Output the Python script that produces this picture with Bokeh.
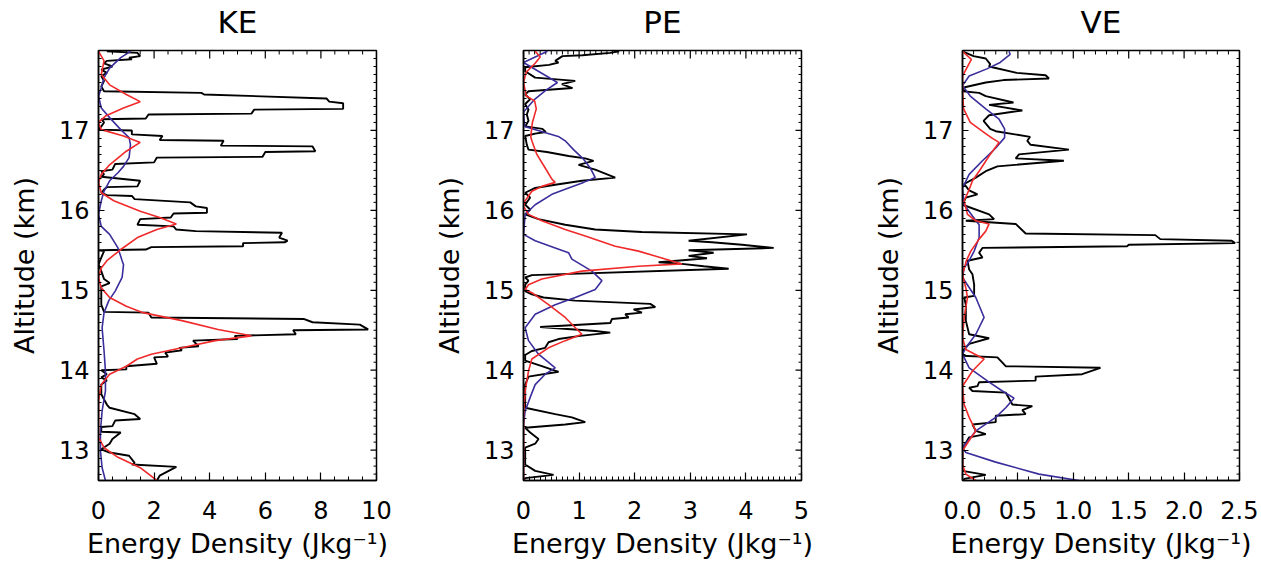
import numpy as np
from bokeh.plotting import figure
from bokeh.layouts import row
from bokeh.models import Range1d, FixedTicker, LinearAxis
from bokeh.embed import file_html
from bokeh.resources import INLINE

FONT = "DejaVu Sans"
BLACK = "#000000"
RED = "#f02a2a"
BLUE = "#3a2e9c"

# ---------------- data (altitude km, energy density J/kg) ----------------
alt_range = (12.62, 18.0)
alt_ticks = [13, 14, 15, 16, 17]
ke_ticks = [0, 2, 4, 6, 8, 10]
pe_ticks = [0, 1, 2, 3, 4, 5]
ve_ticks = [0.0, 0.5, 1.0, 1.5, 2.0, 2.5]
ve_tick_labels = ["0.0", "0.5", "1.0", "1.5", "2.0", "2.5"]
titles = ["KE", "PE", "VE"]

ke_black = [
    (17.99, 0.3), (17.97, 1.4), (17.93, 1.5), (17.91, 1.1), (17.89, 1.2), (17.87, 0.3),
    (17.84, 0.2), (17.80, 0.5), (17.76, 0.1), (17.72, 0.3), (17.68, 0.1), (17.62, 0.2),
    (17.55, 0.1), (17.49, 0.2), (17.47, 3.7), (17.45, 3.8), (17.40, 8.2), (17.36, 8.3),
    (17.34, 8.8), (17.27, 8.8), (17.26, 5.6), (17.21, 5.5), (17.20, 1.8), (17.15, 1.7),
    (17.14, 0.1), (17.10, 0.2), (17.05, 0.1), (17.01, 0.0), (17.00, 1.2), (16.95, 1.2),
    (16.93, 2.3), (16.88, 2.2), (16.87, 4.5), (16.81, 4.4), (16.80, 7.7), (16.74, 7.8),
    (16.73, 6.0), (16.67, 5.9), (16.66, 2.1), (16.60, 2.0), (16.58, 0.6), (16.51, 0.5),
    (16.49, 0.1), (16.45, 0.2), (16.42, 0.1), (16.37, 1.5), (16.30, 1.4), (16.29, 0.3),
    (16.26, 0.2), (16.22, 0.1), (16.19, 0.3), (16.18, 1.2), (16.14, 1.3), (16.10, 3.3),
    (16.05, 3.5), (16.03, 3.9), (15.97, 3.9), (15.96, 2.7), (15.91, 2.6), (15.89, 1.5),
    (15.82, 1.4), (15.80, 2.7), (15.76, 2.8), (15.74, 3.5), (15.72, 6.6), (15.66, 6.5),
    (15.62, 6.8), (15.60, 6.7), (15.59, 5.2), (15.55, 5.2), (15.54, 1.9), (15.51, 1.7),
    (15.50, 0.0), (15.49, 0.2), (15.41, 0.1), (15.32, 0.0), (15.24, 0.1), (15.14, 0.2),
    (15.09, 0.4), (15.05, 0.1), (14.95, 0.1), (14.82, 0.1), (14.73, 0.2), (14.72, 1.8),
    (14.66, 1.9), (14.64, 7.4), (14.60, 7.7), (14.57, 9.4), (14.51, 9.7), (14.50, 7.0),
    (14.45, 7.1), (14.43, 4.9), (14.39, 5.0), (14.37, 3.4), (14.30, 3.6), (14.28, 2.9),
    (14.25, 3.0), (14.22, 2.4), (14.17, 2.5), (14.16, 2.0), (14.08, 2.1), (14.05, 1.0),
    (14.01, 1.0), (14.00, 0.1), (13.95, 0.3), (13.91, 0.1), (13.87, 0.3), (13.82, 0.1),
    (13.70, 0.1), (13.57, 0.3), (13.53, 0.4), (13.45, 1.3), (13.39, 1.5), (13.37, 0.6),
    (13.30, 0.5), (13.29, 0.1), (13.23, 0.1), (13.22, 0.8), (13.14, 0.5), (13.08, 0.4),
    (13.01, 0.1), (12.97, 0.4), (12.93, 1.1), (12.84, 1.3), (12.82, 1.2), (12.79, 2.8),
    (12.68, 2.2), (12.62, 2.1),
]
ke_red = [
    (17.99, 0.0), (17.87, 0.2), (17.70, 0.1), (17.57, 0.4), (17.45, 1.0), (17.36, 1.5),
    (17.28, 0.9), (17.18, 0.25), (17.10, 0.0), (17.01, 0.1), (16.93, 0.9), (16.85, 1.5),
    (16.74, 1.0), (16.57, 0.4), (16.45, 0.1), (16.35, 0.0), (16.22, 0.1), (16.12, 0.55),
    (15.99, 1.5), (15.91, 2.2), (15.83, 2.8), (15.76, 2.1), (15.66, 1.4), (15.51, 0.8),
    (15.37, 0.3), (15.28, 0.1), (15.16, 0.0), (15.03, 0.1), (14.91, 0.4), (14.80, 1.0),
    (14.72, 1.6), (14.62, 3.0), (14.51, 4.3), (14.43, 5.5), (14.37, 4.2), (14.28, 3.0),
    (14.20, 1.9), (14.14, 1.4), (14.05, 1.0), (13.95, 0.4), (13.82, 0.1), (13.62, 0.0),
    (13.16, 0.0), (13.03, 0.2), (12.91, 0.7), (12.78, 1.5), (12.62, 2.1),
]
ke_blue = [
    (17.99, 1.15), (17.91, 0.8), (17.78, 0.4), (17.66, 0.2), (17.53, 0.1), (17.43, 0.0),
    (17.28, 0.1), (17.16, 0.4), (17.01, 0.8), (16.91, 1.1), (16.82, 1.15), (16.66, 1.1),
    (16.55, 0.9), (16.47, 0.7), (16.37, 0.4), (16.24, 0.2), (16.12, 0.1), (15.95, 0.0),
    (15.80, 0.1), (15.70, 0.4), (15.53, 0.7), (15.37, 0.85), (15.32, 0.9), (15.16, 0.85),
    (14.99, 0.6), (14.87, 0.37), (14.72, 0.2), (14.53, 0.13), (14.24, 0.2), (13.99, 0.25),
    (13.74, 0.25), (13.49, 0.13), (13.24, 0.07), (12.99, 0.07), (12.78, 0.13), (12.62, 0.25),
]

pe_black = [
    (17.99, 1.72), (17.97, 1.56), (17.94, 1.06), (17.93, 0.70), (17.87, 0.57), (17.85, 0.63),
    (17.82, 0.46), (17.79, 0.03), (17.74, 0.03), (17.66, 0.21), (17.62, 0.93), (17.58, 0.69),
    (17.53, 0.88), (17.49, 0.09), (17.45, 0.03), (17.39, 0.12), (17.33, 0.03), (17.26, 0.09),
    (17.20, 0.06), (17.12, 0.09), (17.05, 0.03), (17.02, 0.34), (16.98, 0.40), (16.96, 0.21),
    (16.93, 0.03), (16.82, 0.06), (16.76, 0.09), (16.73, 0.42), (16.68, 0.81), (16.65, 1.11),
    (16.62, 1.26), (16.57, 0.99), (16.51, 1.29), (16.41, 1.65), (16.37, 1.05), (16.32, 0.57),
    (16.28, 0.21), (16.22, 0.03), (16.16, 0.12), (16.07, 0.03), (16.01, 0.12), (15.95, 0.03),
    (15.89, 0.27), (15.82, 0.75), (15.76, 1.29), (15.73, 2.13), (15.70, 4.02), (15.62, 2.97),
    (15.60, 3.39), (15.57, 3.93), (15.53, 4.50), (15.50, 2.97), (15.47, 3.42), (15.43, 2.97),
    (15.40, 3.30), (15.35, 2.43), (15.33, 2.85), (15.30, 3.24), (15.27, 3.69), (15.19, 0.15),
    (15.16, 0.03), (15.12, 0.09), (15.07, 0.03), (14.99, 0.03), (14.95, 0.15), (14.91, 0.36),
    (14.87, 0.93), (14.83, 2.28), (14.79, 2.37), (14.76, 1.98), (14.72, 2.13), (14.70, 1.83),
    (14.66, 1.89), (14.64, 1.59), (14.59, 1.56), (14.54, 0.30), (14.49, 1.29), (14.47, 1.56),
    (14.43, 1.02), (14.39, 0.63), (14.35, 0.45), (14.28, 0.39), (14.24, 0.15), (14.19, 0.03),
    (14.12, 0.03), (14.05, 0.33), (13.98, 0.63), (13.92, 0.09), (13.82, 0.03), (13.53, 0.03),
    (13.45, 0.57), (13.41, 0.87), (13.35, 1.11), (13.32, 0.75), (13.28, 0.03), (13.22, 0.12),
    (13.14, 0.27), (13.08, 0.21), (13.03, 0.03), (12.82, 0.03), (12.74, 0.21), (12.69, 0.54),
    (12.65, 0.03), (12.62, 0.0),
]
pe_red = [
    (17.99, 0.21), (17.92, 0.30), (17.84, 0.21), (17.73, 0.05), (17.60, 0.0), (17.43, 0.05),
    (17.37, 0.20), (17.27, 0.23), (17.10, 0.16), (16.92, 0.13), (16.87, 0.15), (16.70, 0.24),
    (16.53, 0.39), (16.39, 0.51), (16.35, 0.57), (16.30, 0.33), (16.24, 0.15), (16.12, 0.03),
    (16.05, 0.0), (15.95, 0.09), (15.87, 0.33), (15.76, 0.75), (15.68, 1.11), (15.55, 1.65),
    (15.49, 2.07), (15.39, 2.55), (15.33, 2.85), (15.30, 2.07), (15.24, 1.05), (15.14, 0.33),
    (15.07, 0.09), (15.01, 0.03), (14.97, 0.15), (14.82, 0.45), (14.66, 0.75), (14.45, 1.05),
    (14.37, 0.75), (14.28, 0.45), (14.14, 0.15), (13.99, 0.09), (13.74, 0.03), (13.41, 0.0),
    (12.62, 0.0),
]
pe_blue = [
    (17.99, 0.43), (17.85, 0.0), (17.60, 0.61), (17.50, 0.40), (17.39, 0.20), (17.23, 0.0),
    (17.05, 0.02), (16.92, 0.64), (16.87, 0.75), (16.76, 0.90),
    (16.64, 1.08), (16.53, 1.20), (16.41, 1.29), (16.35, 1.08), (16.28, 0.81), (16.20, 0.51),
    (16.07, 0.21), (15.95, 0.03), (15.70, 0.0), (15.62, 0.21), (15.53, 0.57), (15.47, 0.81),
    (15.39, 0.87), (15.24, 1.23), (15.12, 1.41), (15.01, 1.29), (14.91, 0.93), (14.82, 0.57),
    (14.70, 0.21), (14.53, 0.03), (14.37, 0.09), (14.20, 0.27), (14.03, 0.57), (13.95, 0.39),
    (13.82, 0.21), (13.66, 0.12), (13.49, 0.03), (13.32, 0.0), (12.62, 0.0),
]

ve_black = [
    (17.99, 0.0), (17.93, 0.10), (17.90, 0.21), (17.83, 0.25), (17.80, 0.24), (17.72, 0.49),
    (17.69, 0.75), (17.65, 0.78), (17.63, 0.37), (17.60, 0.21), (17.54, 0.02), (17.49, 0.0),
    (17.47, 0.15), (17.43, 0.21), (17.35, 0.46), (17.32, 0.24), (17.25, 0.54), (17.19, 0.24),
    (17.12, 0.19), (17.02, 0.25), (16.99, 0.30), (16.92, 0.61), (16.87, 0.585),
    (16.82, 0.615), (16.76, 0.96), (16.70, 0.51), (16.65, 0.48), (16.62, 0.915), (16.55, 0.315),
    (16.49, 0.21), (16.41, 0.12), (16.33, 0.015), (16.25, 0.06), (16.20, 0.135), (16.16, 0.03),
    (16.07, 0.0), (15.95, 0.24), (15.89, 0.285), (15.87, 0.03), (15.83, 0.48), (15.71, 0.57),
    (15.69, 1.74), (15.64, 1.785), (15.62, 2.43), (15.59, 2.46), (15.57, 1.50), (15.55, 1.485),
    (15.53, 0.18), (15.47, 0.15), (15.41, 0.18), (15.37, 0.045), (15.26, 0.06), (15.20, 0.09),
    (15.07, 0.105), (14.93, 0.105), (14.91, 0.015), (14.82, 0.03), (14.62, 0.03), (14.45, 0.06),
    (14.40, 0.24), (14.33, 0.06), (14.24, 0.0), (14.18, 0.0), (14.16, 0.315), (14.05, 0.39),
    (14.03, 1.245), (13.95, 1.08), (13.92, 0.66), (13.87, 0.66), (13.85, 0.15), (13.80, 0.135),
    (13.78, 0.06), (13.74, 0.09), (13.72, 0.39), (13.57, 0.45), (13.55, 0.63), (13.50, 0.54),
    (13.45, 0.57), (13.43, 0.30), (13.35, 0.30), (13.32, 0.09), (13.24, 0.12), (13.20, 0.21),
    (13.16, 0.06), (13.09, 0.03), (13.03, 0.0), (12.74, 0.0), (12.69, 0.21), (12.64, 0.015),
    (12.62, 0.015),
]
ve_red = [
    (17.99, 0.0), (17.89, 0.08), (17.68, 0.0), (17.50, 0.0), (17.27, 0.01), (17.10, 0.07),
    (16.98, 0.19), (16.90, 0.27), (16.85, 0.33), (16.68, 0.24), (16.49, 0.15), (16.37, 0.09),
    (16.26, 0.06), (16.12, 0.015), (15.95, 0.045), (15.87, 0.12), (15.83, 0.24), (15.74, 0.21),
    (15.64, 0.15), (15.49, 0.075), (15.37, 0.035), (15.20, 0.0), (15.03, 0.03), (14.91, 0.045),
    (14.66, 0.015), (14.41, 0.0), (14.26, 0.03), (14.14, 0.195), (13.99, 0.09), (13.80, 0.0),
    (13.57, 0.015), (13.41, 0.06), (13.24, 0.12), (13.12, 0.06), (12.99, 0.0), (12.82, 0.0),
    (12.70, 0.03), (12.62, 0.12),
]
ve_blue = [
    (17.99, 0.42), (17.95, 0.43), (17.85, 0.34), (17.77, 0.22), (17.68, 0.06), (17.56, 0.0),
    (17.43, 0.07), (17.27, 0.21), (17.14, 0.33), (17.02, 0.38), (16.91, 0.38), (16.78, 0.30),
    (16.62, 0.18), (16.45, 0.06), (16.28, 0.0), (16.07, 0.015), (15.93, 0.09), (15.82, 0.15),
    (15.66, 0.15), (15.49, 0.105), (15.37, 0.06), (15.28, 0.015), (15.16, 0.0), (14.91, 0.12),
    (14.66, 0.195), (14.45, 0.12), (14.28, 0.03), (14.20, 0.0), (14.03, 0.06), (13.85, 0.24),
    (13.74, 0.36), (13.65, 0.465), (13.53, 0.39), (13.41, 0.30), (13.24, 0.12), (13.03, 0.0),
    (12.97, 0.03), (12.85, 0.30), (12.70, 0.69), (12.62, 1.05),
]

# ---------------- layout ----------------
FRAME_H = 430
BORDER_TOP = 50
BORDER_BOTTOM = 81
X_MAJ, X_MIN = 8, 4      # tick lengths (px) of the x axes
Y_MAJ, Y_MIN = 6, 3      # tick lengths (px) of the y axes


def make_panel(title, xmax, ticks, minor_step, curves, left, right, frame_w,
               tick_labels=None):
    p = figure(width=left + frame_w + right, height=BORDER_TOP + FRAME_H + BORDER_BOTTOM,
               x_range=Range1d(0, xmax), y_range=Range1d(*alt_range),
               output_backend="svg", toolbar_location=None,
               min_border_left=left, min_border_right=right,
               min_border_top=BORDER_TOP, min_border_bottom=BORDER_BOTTOM)
    p.grid.visible = False
    p.outline_line_color = "black"
    p.outline_line_width = 1.5
    p.background_fill_color = "white"
    p.border_fill_color = "white"

    x_minor = [round(v, 3) for v in np.arange(0, xmax + 1e-9, minor_step)]
    y_minor = [round(v, 2) for v in np.arange(12.7, 18.0 + 1e-9, 0.1)]
    p.xaxis.ticker = FixedTicker(ticks=ticks, minor_ticks=x_minor)
    p.yaxis.ticker = FixedTicker(ticks=alt_ticks, minor_ticks=y_minor)

    # panel title, drawn as the label of an empty axis above the box
    head = LinearAxis(ticker=FixedTicker(ticks=[]), axis_label=title,
                      axis_line_color=None, major_tick_line_color=None,
                      minor_tick_line_color=None, major_label_standoff=0,
                      major_tick_in=0, major_tick_out=0, minor_tick_in=0, minor_tick_out=0,
                      axis_label_standoff=11, axis_label_text_font=FONT,
                      axis_label_text_font_size="31px", axis_label_text_font_style="normal",
                      axis_label_text_line_height=0.9,
                      axis_label_text_color="black")
    p.add_layout(head, "above")

    for ax in p.below:
        ax.major_tick_in = X_MAJ
        ax.major_tick_out = 0
        ax.minor_tick_in = X_MIN
        ax.minor_tick_out = 0
    for ax in p.left:
        ax.major_tick_in = Y_MAJ
        ax.major_tick_out = 0
        ax.minor_tick_in = Y_MIN
        ax.minor_tick_out = 0
    for ax in list(p.below) + list(p.left):
        ax.axis_line_color = "black"
        ax.axis_line_width = 1.5
        ax.major_tick_line_color = "black"
        ax.minor_tick_line_color = "black"
        ax.major_tick_line_width = 1.2
        ax.minor_tick_line_width = 1.0
        ax.major_label_text_font = FONT
        ax.major_label_text_color = "black"
        ax.axis_label_text_font = FONT
        ax.axis_label_text_font_style = "normal"
        ax.axis_label_text_color = "black"

    # tick marks on the top and right edges of the box (no labels there)
    ay = (alt_range[1] - alt_range[0]) / FRAME_H
    ax_ = xmax / frame_w
    top = alt_range[1]
    tx_maj = list(ticks)
    tx_min = [t for t in x_minor if all(abs(t - m) > 1e-6 for m in ticks)]
    p.segment(x0=tx_maj, y0=[top] * len(tx_maj), x1=tx_maj, y1=[top - X_MAJ * ay] * len(tx_maj),
              line_color="black", line_width=1.2)
    p.segment(x0=tx_min, y0=[top] * len(tx_min), x1=tx_min, y1=[top - X_MIN * ay] * len(tx_min),
              line_color="black", line_width=1.0)
    ty_min = [t for t in y_minor if all(abs(t - m) > 1e-6 for m in alt_ticks)]
    p.segment(x0=[xmax] * len(alt_ticks), y0=alt_ticks, x1=[xmax - Y_MAJ * ax_] * len(alt_ticks),
              y1=alt_ticks, line_color="black", line_width=1.2)
    p.segment(x0=[xmax] * len(ty_min), y0=ty_min, x1=[xmax - Y_MIN * ax_] * len(ty_min),
              y1=ty_min, line_color="black", line_width=1.0)

    bx = p.below[0]
    bx.major_label_text_font_size = "24px"
    bx.major_label_standoff = 20
    bx.axis_label = "Energy Density (Jkg\u207b\u00b9)"
    bx.axis_label_text_font_size = "27px"
    bx.axis_label_text_line_height = 0.7
    bx.axis_label_standoff = 6
    if tick_labels is not None:
        bx.major_label_overrides = {
            (int(t) if float(t).is_integer() else t): lab for t, lab in zip(ticks, tick_labels)
        }

    ly = p.left[0]
    ly.major_label_text_font_size = "24px"
    ly.major_label_standoff = 9
    ly.axis_label = "Altitude (km)"
    ly.axis_label_text_font_size = "27px"
    ly.axis_label_standoff = 16

    for pts, color, lw in curves:
        alts = [a for a, _ in pts]
        vals = [v for _, v in pts]
        p.line(vals, alts, line_color=color, line_width=lw)
    return p


p1 = make_panel(titles[0], 10, ke_ticks, 0.5,
                [(ke_black, BLACK, 1.9), (ke_blue, BLUE, 1.6), (ke_red, RED, 1.6)],
                left=98, right=52, frame_w=278)
p2 = make_panel(titles[1], 5, pe_ticks, 0.1,
                [(pe_black, BLACK, 1.9), (pe_blue, BLUE, 1.6), (pe_red, RED, 1.6)],
                left=95, right=66, frame_w=278)
p3 = make_panel(titles[2], 2.5, ve_ticks, 0.1,
                [(ve_black, BLACK, 1.9), (ve_blue, BLUE, 1.6), (ve_red, RED, 1.6)],
                left=95, right=19, frame_w=277, tick_labels=ve_tick_labels)

layout = row(p1, p2, p3)
open("out.html", "w").write(file_html(layout, INLINE))
